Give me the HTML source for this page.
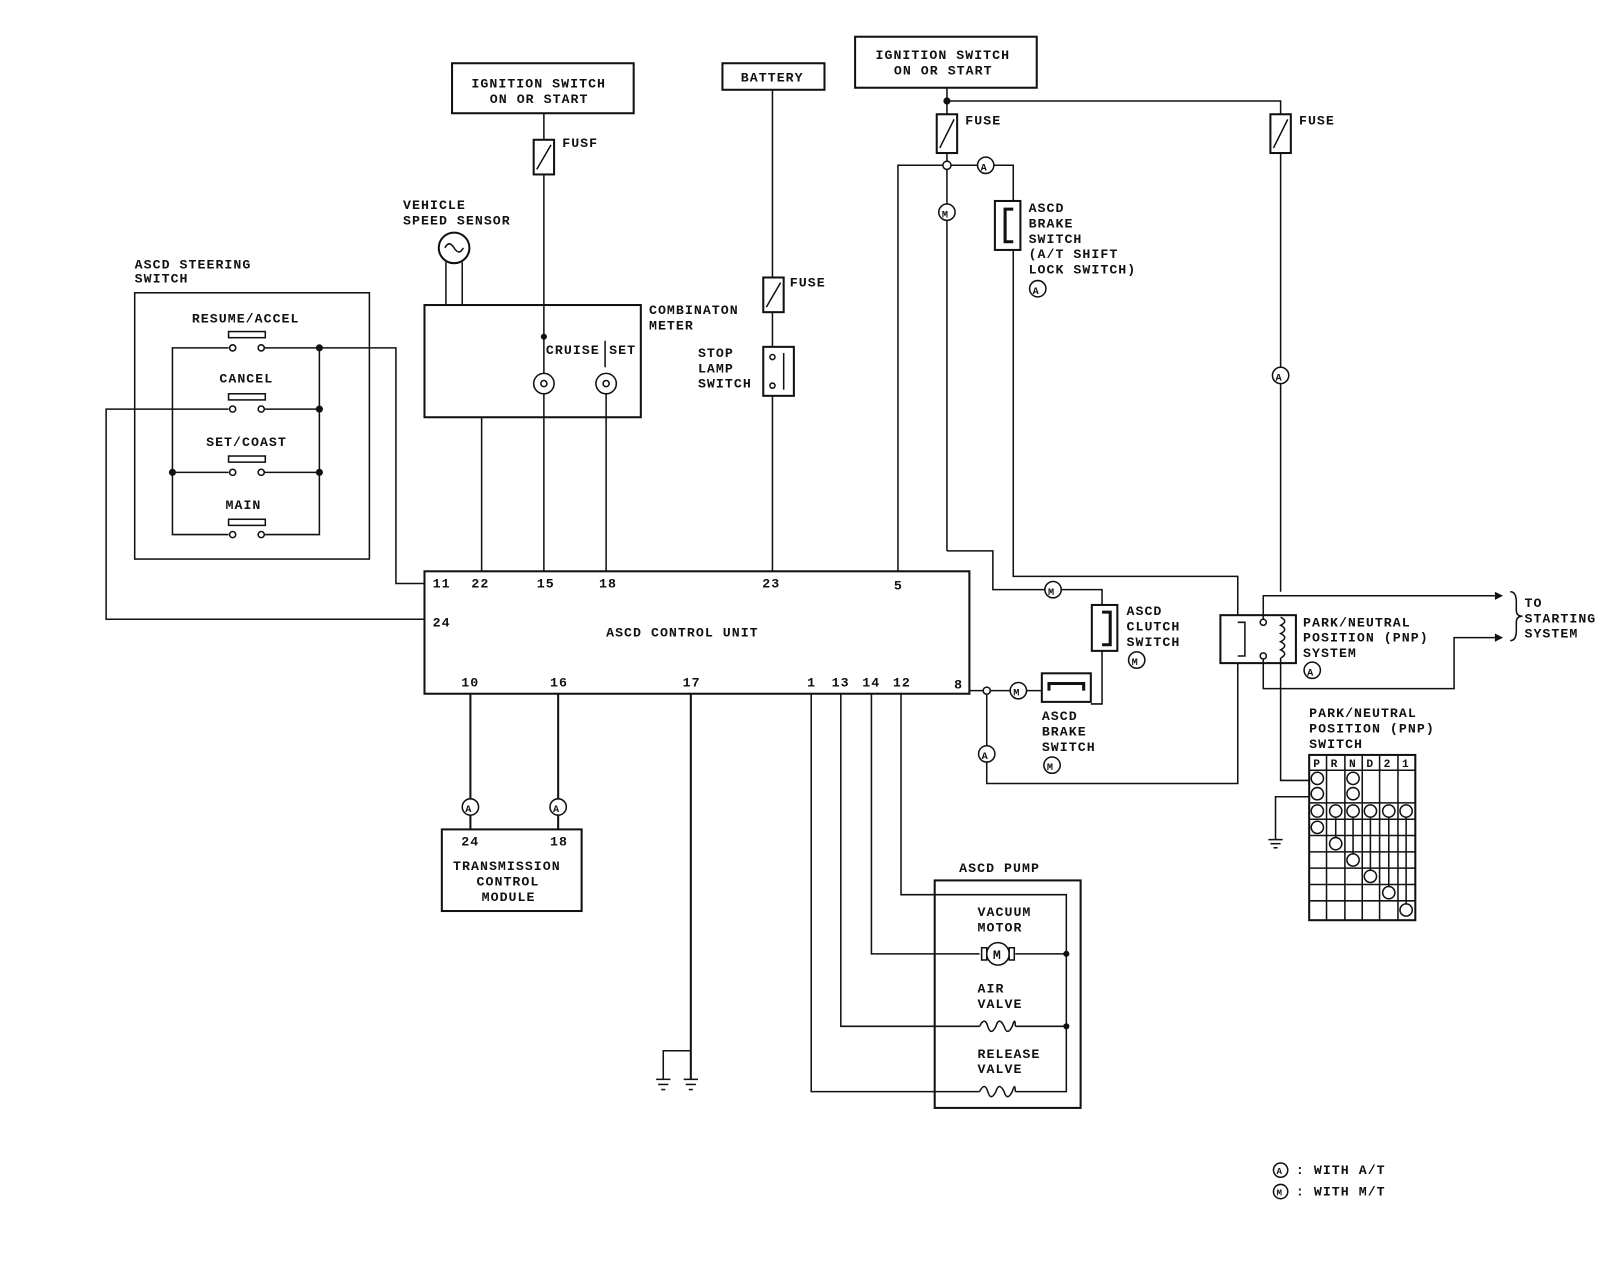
<!DOCTYPE html>
<html><head><meta charset="utf-8"><style>
html,body{margin:0;padding:0;background:#fff;}
svg{display:block;}
text{font-family:"Liberation Mono",monospace;font-size:13px;font-weight:bold;fill:#111;letter-spacing:1px;}
.l{stroke:#111;stroke-width:2;fill:none;}
.t{stroke:#111;stroke-width:1.5;fill:none;}
.b{stroke:#111;stroke-width:2;fill:#fff;}
</style></head><body>
<svg width="1600" height="1264" viewBox="0 0 1568 1239" preserveAspectRatio="none" xmlns="http://www.w3.org/2000/svg">
<!-- Ignition switch 1 -->
<rect class="l" x="443" y="62" width="178" height="49"/>
<text x="462" y="86">IGNITION SWITCH</text><text x="480" y="101">ON OR START</text>
<line class="t" x1="533" y1="111" x2="533" y2="560"/>
<rect class="b" x="523" y="137" width="20" height="34"/><line class="t" x1="526" y1="166" x2="540" y2="142"/>
<text x="551" y="144">FUSF</text>
<!-- Battery -->
<rect class="l" x="708" y="62" width="100" height="26"/><text x="726" y="80">BATTERY</text>
<line class="t" x1="757" y1="88" x2="757" y2="560"/>
<rect class="b" x="748" y="272" width="20" height="34"/><line class="t" x1="751" y1="301" x2="765" y2="277"/>
<text x="774" y="281">FUSE</text>
<rect class="b" x="748" y="340" width="30" height="48"/><line class="t" x1="768" y1="346" x2="768" y2="382"/>
<circle class="t" cx="757" cy="350" r="2.5"/><circle class="t" cx="757" cy="378" r="2.5"/>
<text x="684" y="350">STOP</text><text x="684" y="365">LAMP</text><text x="684" y="380">SWITCH</text>
<!-- Ignition switch 2 -->
<rect class="l" x="838" y="36" width="178" height="50"/>
<text x="858" y="58">IGNITION SWITCH</text><text x="876" y="73">ON OR START</text>
<line class="t" x1="928" y1="86" x2="928" y2="540"/>
<circle cx="928" cy="99" r="3.5" fill="#111"/>
<polyline class="t" points="928,99 1255,99 1255,580"/>
<rect class="b" x="918" y="112" width="20" height="38"/><line class="t" x1="921" y1="145" x2="935" y2="117"/>
<text x="946" y="122">FUSE</text>
<rect class="b" x="1245" y="112" width="20" height="38"/><line class="t" x1="1248" y1="145" x2="1262" y2="117"/>
<text x="1273" y="122">FUSE</text>
<polyline class="t" points="880,560 880,162 993,162 993,565 1213,565 1213,603"/>
<circle class="b" cx="928" cy="162" r="4" style="stroke-width:1.5"/>
<circle class="b" cx="966" cy="162" r="8" style="stroke-width:1.5"/><text x="961" y="167" style="font-size:10px">A</text>
<circle class="b" cx="928" cy="208" r="8" style="stroke-width:1.5"/><text x="923" y="213" style="font-size:10px">M</text>
<rect class="b" x="975" y="197" width="25" height="48"/><polyline class="l" points="993,205 985,205 985,237 993,237" style="stroke-width:3"/>
<text x="1008" y="208">ASCD</text><text x="1008" y="223">BRAKE</text><text x="1008" y="238">SWITCH</text><text x="1008" y="253">(A/T SHIFT</text><text x="1008" y="268">LOCK SWITCH)</text>
<circle class="b" cx="1017" cy="283" r="8" style="stroke-width:1.5"/><text x="1012" y="288" style="font-size:10px">A</text>
<circle class="b" cx="1255" cy="368" r="8" style="stroke-width:1.5"/><text x="1250" y="373" style="font-size:10px">A</text>
<!-- M/T path -->
<polyline class="t" points="928,540 973,540 973,578 1080,578 1080,593"/>
<circle class="b" cx="1032" cy="578" r="8" style="stroke-width:1.5"/><text x="1027" y="583" style="font-size:10px">M</text>
<rect class="b" x="1070" y="593" width="25" height="45"/><polyline class="l" points="1080,600 1088,600 1088,632 1080,632" style="stroke-width:3"/>
<polyline class="t" points="1080,638 1080,690 1069,690"/>
<text x="1104" y="603">ASCD</text><text x="1104" y="618">CLUTCH</text><text x="1104" y="633">SWITCH</text>
<circle class="b" cx="1114" cy="647" r="8" style="stroke-width:1.5"/><text x="1109" y="652" style="font-size:10px">M</text>
<rect class="b" x="1021" y="660" width="48" height="28"/><polyline class="l" points="1028,677 1028,670 1062,670 1062,677" style="stroke-width:3"/>
<text x="1021" y="706">ASCD</text><text x="1021" y="721">BRAKE</text><text x="1021" y="736">SWITCH</text>
<circle class="b" cx="1031" cy="750" r="8" style="stroke-width:1.5"/><text x="1026" y="755" style="font-size:10px">M</text>
<polyline class="t" points="950,677 1021,677"/>
<circle class="b" cx="998" cy="677" r="8" style="stroke-width:1.5"/><text x="993" y="682" style="font-size:10px">M</text>
<circle class="b" cx="967" cy="677" r="3.5" style="stroke-width:1.5"/>
<polyline class="t" points="967,681 967,768 1213,768 1213,650"/>
<circle class="b" cx="967" cy="739" r="8" style="stroke-width:1.5"/><text x="962" y="744" style="font-size:10px">A</text>
<!-- PNP relay -->
<rect class="l" x="1196" y="603" width="74" height="47"/>
<polyline class="t" points="1213,610 1220,610 1220,643 1213,643"/>
<circle class="b" cx="1238" cy="610" r="3" style="stroke-width:1.5"/><circle class="b" cx="1238" cy="643" r="3" style="stroke-width:1.5"/>
<path class="t" d="M1255,605 q8,4 0,8 q8,4 0,8 q8,4 0,8 q8,4 0,8 q8,4 0,8"/>
<polyline class="t" points="1238,607 1238,584 1465,584"/><path d="M1465,580 l8,4 l-8,4z" fill="#111"/>
<polyline class="t" points="1238,646 1238,675 1425,675 1425,625 1465,625"/><path d="M1465,621 l8,4 l-8,4z" fill="#111"/>
<path class="t" d="M1480,580 q6,0 6,10 v8 q0,6 6,6 q-6,0 -6,6 v8 q0,10 -6,10"/>
<text x="1494" y="595">TO</text><text x="1494" y="610">STARTING</text><text x="1494" y="625">SYSTEM</text>
<text x="1277" y="614">PARK/NEUTRAL</text><text x="1277" y="629">POSITION (PNP)</text><text x="1277" y="644">SYSTEM</text>
<circle class="b" cx="1286" cy="657" r="8" style="stroke-width:1.5"/><text x="1281" y="662" style="font-size:10px">A</text>
<polyline class="t" points="1255,645 1255,765 1283,765"/>
<polyline class="t" points="1283,781 1250,781 1250,823"/>
<line class="t" x1="1243" y1="823" x2="1257" y2="823"/><line class="t" x1="1245" y1="827" x2="1255" y2="827"/><line class="t" x1="1248" y1="831" x2="1252" y2="831"/>
<!-- PNP switch grid -->
<text x="1283" y="703">PARK/NEUTRAL</text><text x="1283" y="718">POSITION (PNP)</text><text x="1283" y="733">SWITCH</text>
<g class="t">
<rect x="1283" y="740" width="104" height="162" class="l"/>
<line x1="1300" y1="740" x2="1300" y2="902"/><line x1="1318" y1="740" x2="1318" y2="902"/><line x1="1335" y1="740" x2="1335" y2="902"/><line x1="1352" y1="740" x2="1352" y2="902"/><line x1="1370" y1="740" x2="1370" y2="902"/>
<line x1="1283" y1="755" x2="1387" y2="755"/><line x1="1283" y1="787" x2="1387" y2="787"/><line x1="1283" y1="803" x2="1387" y2="803"/><line x1="1283" y1="819" x2="1387" y2="819"/><line x1="1283" y1="835" x2="1387" y2="835"/><line x1="1283" y1="851" x2="1387" y2="851"/><line x1="1283" y1="867" x2="1387" y2="867"/><line x1="1283" y1="883" x2="1387" y2="883"/>
<line x1="1309" y1="795" x2="1309" y2="827"/><line x1="1326" y1="795" x2="1326" y2="843"/><line x1="1343" y1="795" x2="1343" y2="859"/><line x1="1361" y1="795" x2="1361" y2="875"/><line x1="1378" y1="795" x2="1378" y2="892"/>
</g>
<text x="1287" y="752" style="font-size:11px;letter-spacing:0">P</text><text x="1304" y="752" style="font-size:11px;letter-spacing:0">R</text><text x="1322" y="752" style="font-size:11px;letter-spacing:0">N</text><text x="1339" y="752" style="font-size:11px;letter-spacing:0">D</text><text x="1356" y="752" style="font-size:11px;letter-spacing:0">2</text><text x="1374" y="752" style="font-size:11px;letter-spacing:0">1</text>
<g class="b" style="stroke-width:1.5">
<circle cx="1291" cy="763" r="6"/><circle cx="1326" cy="763" r="6"/>
<circle cx="1291" cy="778" r="6"/><circle cx="1326" cy="778" r="6"/>
<circle cx="1291" cy="795" r="6"/><circle cx="1309" cy="795" r="6"/><circle cx="1326" cy="795" r="6"/><circle cx="1343" cy="795" r="6"/><circle cx="1361" cy="795" r="6"/><circle cx="1378" cy="795" r="6"/>
<circle cx="1291" cy="811" r="6"/><circle cx="1309" cy="827" r="6"/><circle cx="1326" cy="843" r="6"/><circle cx="1343" cy="859" r="6"/><circle cx="1361" cy="875" r="6"/><circle cx="1378" cy="892" r="6"/>
</g>
<!-- Combination meter -->
<text x="395" y="205">VEHICLE</text><text x="395" y="220">SPEED SENSOR</text>
<circle class="l" cx="445" cy="243" r="15"/><path class="t" d="M436,243 q4,-8 9,0 q5,8 9,0"/>
<line class="t" x1="437" y1="257" x2="437" y2="299"/><line class="t" x1="453" y1="257" x2="453" y2="299"/>
<rect class="l" x="416" y="299" width="212" height="110"/>
<text x="636" y="308">COMBINATON</text><text x="636" y="323">METER</text>
<text x="535" y="347">CRUISE</text><text x="597" y="347">SET</text>
<line class="t" x1="593" y1="334" x2="593" y2="360"/>
<circle cx="533" cy="330" r="3" fill="#111"/>
<circle class="b" cx="533" cy="376" r="10" style="stroke-width:1.5"/><circle class="t" cx="533" cy="376" r="3"/>
<circle class="b" cx="594" cy="376" r="10" style="stroke-width:1.5"/><circle class="t" cx="594" cy="376" r="3"/>
<line class="t" x1="594" y1="386" x2="594" y2="560"/>
<line class="t" x1="472" y1="409" x2="472" y2="560"/>
<!-- Steering switch -->
<text x="132" y="263">ASCD STEERING</text><text x="132" y="277">SWITCH</text>
<rect class="t" x="132" y="287" width="230" height="261"/>
<g class="t">
<polyline points="224,341 169,341 169,524 224,524"/>
<line x1="169" y1="463" x2="224" y2="463"/>
<line x1="259" y1="341" x2="313" y2="341"/><line x1="259" y1="401" x2="313" y2="401"/><line x1="259" y1="463" x2="313" y2="463"/>
<polyline points="313,341 313,463"/>
<polyline points="259,524 313,524 313,463"/>
<polyline points="313,341 388,341 388,572 416,572"/>
<polyline points="224,401 104,401 104,607 416,607"/>
<rect x="224" y="325" width="36" height="6"/><rect x="224" y="386" width="36" height="6"/><rect x="224" y="447" width="36" height="6"/><rect x="224" y="509" width="36" height="6"/>
</g>
<g class="b" style="stroke-width:1.5">
<circle cx="228" cy="341" r="3"/><circle cx="256" cy="341" r="3"/><circle cx="228" cy="401" r="3"/><circle cx="256" cy="401" r="3"/>
<circle cx="228" cy="463" r="3"/><circle cx="256" cy="463" r="3"/><circle cx="228" cy="524" r="3"/><circle cx="256" cy="524" r="3"/>
</g>
<circle cx="313" cy="341" r="3.5" fill="#111"/><circle cx="313" cy="401" r="3.5" fill="#111"/><circle cx="313" cy="463" r="3.5" fill="#111"/><circle cx="169" cy="463" r="3.5" fill="#111"/>
<text x="188" y="316">RESUME/ACCEL</text><text x="215" y="375">CANCEL</text><text x="202" y="437">SET/COAST</text><text x="221" y="499">MAIN</text>
<!-- Control unit -->
<rect class="l" x="416" y="560" width="534" height="120"/>
<text x="424" y="576">11</text><text x="462" y="576">22</text><text x="526" y="576">15</text><text x="587" y="576">18</text><text x="747" y="576">23</text><text x="876" y="578">5</text>
<text x="424" y="614">24</text>
<text x="594" y="624">ASCD CONTROL UNIT</text>
<text x="452" y="673">10</text><text x="539" y="673">16</text><text x="669" y="673">17</text><text x="791" y="673">1</text><text x="815" y="673">13</text><text x="845" y="673">14</text><text x="875" y="673">12</text><text x="935" y="675">8</text>
<!-- TCM -->
<line class="l" x1="461" y1="680" x2="461" y2="813"/><line class="l" x1="547" y1="680" x2="547" y2="813"/>
<circle class="b" cx="461" cy="791" r="8" style="stroke-width:1.5"/><text x="456" y="796" style="font-size:10px">A</text>
<circle class="b" cx="547" cy="791" r="8" style="stroke-width:1.5"/><text x="542" y="796" style="font-size:10px">A</text>
<rect class="l" x="433" y="813" width="137" height="80"/>
<text x="452" y="829">24</text><text x="539" y="829">18</text>
<text x="444" y="853">TRANSMISSION</text><text x="467" y="868">CONTROL</text><text x="472" y="883">MODULE</text>
<!-- Ground 17 -->
<line class="l" x1="677" y1="680" x2="677" y2="1058"/>
<polyline class="t" points="677,1030 650,1030 650,1058"/>
<g class="t"><line x1="643" y1="1058" x2="657" y2="1058"/><line x1="645" y1="1063" x2="655" y2="1063"/><line x1="648" y1="1068" x2="652" y2="1068"/>
<line x1="670" y1="1058" x2="684" y2="1058"/><line x1="672" y1="1063" x2="682" y2="1063"/><line x1="675" y1="1068" x2="679" y2="1068"/></g>
<!-- Pump -->
<polyline class="t" points="795,680 795,1070 960,1070"/>
<polyline class="t" points="824,680 824,1006 960,1006"/>
<polyline class="t" points="854,680 854,935 960,935"/>
<polyline class="t" points="883,680 883,877 1045,877 1045,1070 995,1070"/>
<line class="t" x1="995" y1="935" x2="1045" y2="935"/><line class="t" x1="995" y1="1006" x2="1045" y2="1006"/>
<circle cx="1045" cy="935" r="3" fill="#111"/><circle cx="1045" cy="1006" r="3" fill="#111"/>
<rect class="l" x="916" y="863" width="143" height="223"/>
<text x="940" y="855">ASCD PUMP</text>
<text x="958" y="898">VACUUM</text><text x="958" y="913">MOTOR</text>
<circle class="b" cx="978" cy="935" r="11" style="stroke-width:1.5"/><text x="973" y="940">M</text>
<rect class="b" x="962" y="929" width="5" height="12" style="stroke-width:1.5"/><rect class="b" x="989" y="929" width="5" height="12" style="stroke-width:1.5"/>
<text x="958" y="973">AIR</text><text x="958" y="988">VALVE</text>
<path class="t" d="M960,1006 q5,-10 8,0 q3,10 8,0 q3,-10 8,0 q3,10 8,0 q3,-10 3,0"/>
<text x="958" y="1037">RELEASE</text><text x="958" y="1052">VALVE</text>
<path class="t" d="M960,1070 q5,-10 8,0 q3,10 8,0 q3,-10 8,0 q3,10 8,0 q3,-10 3,0"/>
<!-- Legend -->
<circle class="b" cx="1255" cy="1147" r="7" style="stroke-width:1.5"/><text x="1251" y="1151" style="font-size:9px">A</text>
<text x="1270" y="1151">: WITH A/T</text>
<circle class="b" cx="1255" cy="1168" r="7" style="stroke-width:1.5"/><text x="1251" y="1172" style="font-size:9px">M</text>
<text x="1270" y="1172">: WITH M/T</text>
</svg>
</body></html>
